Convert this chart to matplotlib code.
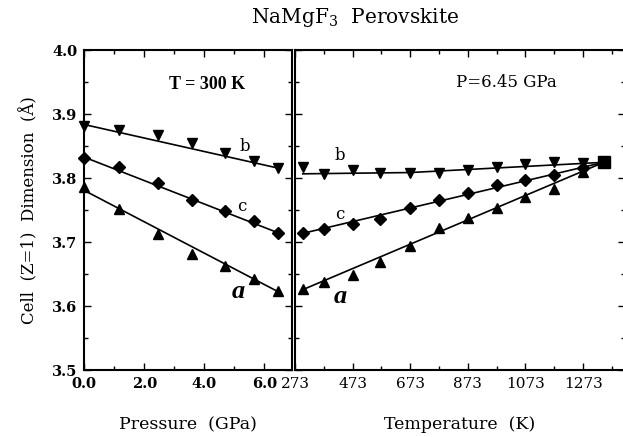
import numpy as np
import matplotlib
matplotlib.use("Agg")
import matplotlib.pyplot as plt
from matplotlib.ticker import MultipleLocator, FixedLocator
from matplotlib.transforms import offset_copy

plt.rcParams['font.family'] = ['DejaVu Serif']
plt.rcParams['mathtext.fontset'] = 'dejavuserif'

# Lattice parameters vs pressure at 300 K
pressure = [0.0, 1.15, 2.45, 3.6, 4.7, 5.65, 6.45]
b_press = [3.881, 3.875, 3.868, 3.855, 3.839, 3.827, 3.816]
c_press = [3.831, 3.817, 3.792, 3.766, 3.749, 3.733, 3.715]
a_press = [3.787, 3.752, 3.713, 3.682, 3.663, 3.642, 3.624]

# fitted lines (pressure)
fit_press = [0.0, 6.45]
b_press_fit = [3.884, 3.816]
c_press_fit = [3.833, 3.715]
a_press_fit = [3.781, 3.623]

# Lattice parameters vs temperature at 6.45 GPa
temp = [300, 373, 473, 568, 673, 773, 873, 973, 1073, 1173, 1273]
b_temp = [3.817, 3.806, 3.813, 3.809, 3.808, 3.808, 3.813, 3.818, 3.822, 3.825, 3.824]
c_temp = [3.715, 3.721, 3.729, 3.736, 3.754, 3.766, 3.777, 3.790, 3.798, 3.805, 3.816]
a_temp = [3.627, 3.638, 3.649, 3.670, 3.695, 3.722, 3.738, 3.754, 3.771, 3.783, 3.810]

# cubic phase
temp_cubic = [1345]
cell_cubic = [3.825]

# fitted lines (temperature)
b_temp_fit_T = [300, 673, 1345]
b_temp_fit = [3.807, 3.809, 3.825]
ca_temp_fit_T = [300, 1345]
c_temp_fit = [3.714, 3.825]
a_temp_fit = [3.626, 3.825]

press_ticks = [0.0, 2.0, 4.0, 6.0]
temp_ticks = [273, 473, 673, 873, 1073, 1273]
cell_ticks = [3.5, 3.6, 3.7, 3.8, 3.9, 4.0]

fig = plt.figure(figsize=(6.23, 4.37), dpi=100)
ax1 = fig.add_axes([0.1353, 0.1526, 0.3334, 0.7323])
ax2 = fig.add_axes([0.4735, 0.1526, 0.5295, 0.7323])

ms_tri = 7.5
ms_dia = 6

#Pressure panel
ax1.plot(fit_press, b_press_fit, color='black', lw=1.2)
ax1.plot(fit_press, c_press_fit, color='black', lw=1.2)
ax1.plot(fit_press, a_press_fit, color='black', lw=1.2)
ax1.plot(pressure, b_press, 'v', color='black', ms=ms_tri, clip_on=False)
ax1.plot(pressure, c_press, 'D', color='black', ms=ms_dia, clip_on=False)
ax1.plot(pressure, a_press, '^', color='black', ms=ms_tri, clip_on=False)

ax1.set_xlim(0, 6.92)
ax1.set_ylim(3.5, 4.0)
ax1.xaxis.set_major_locator(FixedLocator(press_ticks))
ax1.xaxis.set_minor_locator(MultipleLocator(1.0))
ax1.yaxis.set_major_locator(FixedLocator(cell_ticks))
ax1.yaxis.set_minor_locator(MultipleLocator(0.05))
ax1.set_xticklabels([f'{v:.1f}' for v in press_ticks], fontsize=10.5, fontweight='bold')
ax1.set_yticklabels([f'{v:.1f}' for v in cell_ticks], fontsize=10.5, fontweight='bold')

ax1.text(5.35, 3.849, 'b', fontsize=12, ha='center', va='center')
ax1.text(5.25, 3.756, 'c', fontsize=12, ha='center', va='center')
ax1.text(5.13, 3.623, 'a', fontsize=19, ha='center', va='center',
         family='Liberation Serif', style='italic', fontweight='bold')
ax1.text(4.08, 3.947, 'T = 300 K', fontsize=13, ha='center', va='center',
         family='Liberation Serif', fontweight='bold')

ax1.set_xlabel('Pressure  (GPa)', fontsize=12.5, labelpad=18)
ax1.set_ylabel('Cell  (Z=1)  Dimension  (Å)', fontsize=12, labelpad=10)

#Temperature panel
ax2.plot(b_temp_fit_T, b_temp_fit, color='black', lw=1.2)
ax2.plot(ca_temp_fit_T, c_temp_fit, color='black', lw=1.2)
ax2.plot(ca_temp_fit_T, a_temp_fit, color='black', lw=1.2)
ax2.plot(temp, c_temp, 'D', color='black', ms=ms_dia)
ax2.plot(temp, b_temp, 'v', color='black', ms=ms_tri)
ax2.plot(temp, a_temp, '^', color='black', ms=ms_tri)
ax2.plot(temp_cubic, cell_cubic, 's', color='black', ms=8)

ax2.set_xlim(273, 1418)
ax2.set_ylim(3.5, 4.0)
ax2.xaxis.set_major_locator(FixedLocator(temp_ticks))
ax2.xaxis.set_minor_locator(MultipleLocator(100, offset=73))
ax2.yaxis.set_major_locator(FixedLocator(cell_ticks))
ax2.yaxis.set_minor_locator(MultipleLocator(0.05))
ax2.set_xticklabels([str(v) for v in temp_ticks], fontsize=11)
ax2.set_yticklabels([])
lab0 = ax2.get_xticklabels()[0]
lab0.set_transform(offset_copy(lab0.get_transform(), fig=fig, x=7, y=0, units='dots'))

ax2.text(429, 3.836, 'b', fontsize=12, ha='center', va='center')
ax2.text(427, 3.744, 'c', fontsize=12, ha='center', va='center')
ax2.text(429, 3.615, 'a', fontsize=19, ha='center', va='center',
         family='Liberation Serif', style='italic', fontweight='bold')
ax2.text(1007, 3.949, 'P=6.45 GPa', fontsize=12, ha='center', va='center')

ax2.set_xlabel('Temperature  (K)', fontsize=12.5, labelpad=18)

for ax in (ax1, ax2):
    ax.tick_params(which='both', direction='in', top=True, right=True, width=1)
    ax.tick_params(which='major', length=5, pad=5)
    ax.tick_params(which='minor', length=3)
    for s in ax.spines.values():
        s.set_linewidth(1.5)

fig.text(0.57, 0.961, 'NaMgF$_3$  Perovskite', fontsize=14.5, ha='center', va='center')

fig.savefig('out.png', dpi=100)
